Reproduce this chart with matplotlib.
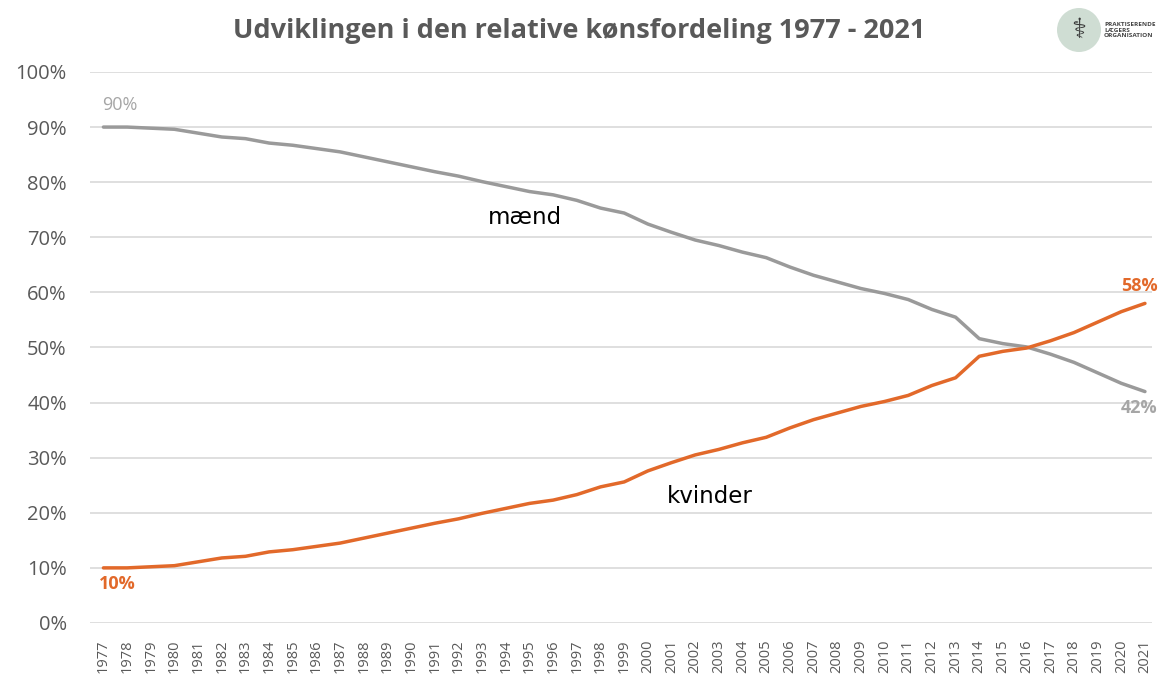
import matplotlib.pyplot as plt
from matplotlib.patches import Ellipse
from matplotlib.ticker import PercentFormatter

# Data (percent share of doctors)
years = list(range(1977, 2022))
kvinder = [10.0, 10.0, 10.2, 10.4, 11.1, 11.8, 12.1, 12.9, 13.3, 13.9,
           14.5, 15.4, 16.3, 17.2, 18.1, 18.9, 19.9, 20.8, 21.7, 22.3,
           23.3, 24.7, 25.6, 27.6, 29.1, 30.5, 31.5, 32.7, 33.7, 35.4,
           36.9, 38.1, 39.3, 40.2, 41.3, 43.1, 44.5, 48.4, 49.3, 49.9,
           51.2, 52.7, 54.6, 56.5, 58.0]
maend = [90.0, 90.0, 89.8, 89.6, 88.9, 88.2, 87.9, 87.1, 86.7, 86.1,
         85.5, 84.6, 83.7, 82.8, 81.9, 81.1, 80.1, 79.2, 78.3, 77.7,
         76.7, 75.3, 74.4, 72.4, 70.9, 69.5, 68.5, 67.3, 66.3, 64.6,
         63.1, 61.9, 60.7, 59.8, 58.7, 56.9, 55.5, 51.6, 50.7, 50.1,
         48.8, 47.3, 45.4, 43.5, 42.0]
y_ticks = [0, 10, 20, 30, 40, 50, 60, 70, 80, 90, 100]

orange = '#E2692A'
grey_line = '#9A9A9A'
text_grey = '#595959'

plt.rcParams['font.family'] = ['Open Sans', 'DejaVu Sans']

fig = plt.figure(figsize=(11.59, 6.79), dpi=100)
ax = fig.add_axes([0.078, 0.0825, 0.916, 0.8115])

ax.plot(years, maend, color=grey_line, lw=2.5, solid_capstyle='round', zorder=3)
ax.plot(years, kvinder, color=orange, lw=2.5, solid_capstyle='round', zorder=3)

ax.set_xlim(1976.45, 2021.3)
ax.set_ylim(0, 100)
ax.set_yticks(y_ticks)
ax.yaxis.set_major_formatter(PercentFormatter(decimals=0))
ax.set_xticks(years)
ax.set_xticklabels([str(y) for y in years], rotation=90)
ax.tick_params(axis='y', length=0, labelsize=14.5, labelcolor=text_grey, pad=17)
ax.tick_params(axis='x', length=0, labelsize=10.5, labelcolor=text_grey, pad=12)
ax.grid(axis='y', color='#D9D9D9', lw=1.2)
ax.set_axisbelow(True)
for s in ax.spines.values():
    s.set_visible(False)

# Series labels
ax.text(1994.8, 73.5, 'mænd', fontsize=16.5, color='black', ha='center', va='center',
        family='DejaVu Sans')
ax.text(2002.6, 23, 'kvinder', fontsize=16.5, color='black', ha='center', va='center',
        family='DejaVu Sans')

# End point labels
ax.text(1977.7, 94, '90%', fontsize=13, color='#A6A6A6', ha='center', va='center')
ax.text(1977.6, 7.0, '10%', fontsize=13, color=orange, ha='center', va='center', weight='bold')
ax.text(2020.75, 61.2, '58%', fontsize=13, color=orange, ha='center', va='center', weight='bold')
ax.text(2020.75, 39.0, '42%', fontsize=13, color='#A6A6A6', ha='center', va='center', weight='bold')

fig.text(0.5, 0.955, 'Udviklingen i den relative kønsfordeling 1977 - 2021', fontsize=19.5,
         weight='bold', color=text_grey, ha='center', va='center')

# Logo
logo = Ellipse((1079 / 1159, 1 - 30 / 679), 44 / 1159, 44 / 679, transform=fig.transFigure,
               facecolor='#CFDDD3', edgecolor='none')
fig.patches.append(logo)
fig.text(1079 / 1159, 1 - 30 / 679, '⚕', fontsize=20, color='#3A3A3A', ha='center', va='center',
         family='DejaVu Sans')
fig.text(1104 / 1159, 1 - 30 / 679, 'PRAKTISERENDE\nLÆGERS\nORGANISATION', fontsize=4.6,
         color='#444444', ha='left', va='center', linespacing=1.05, weight='bold')

fig.savefig('out.png', dpi=100)
